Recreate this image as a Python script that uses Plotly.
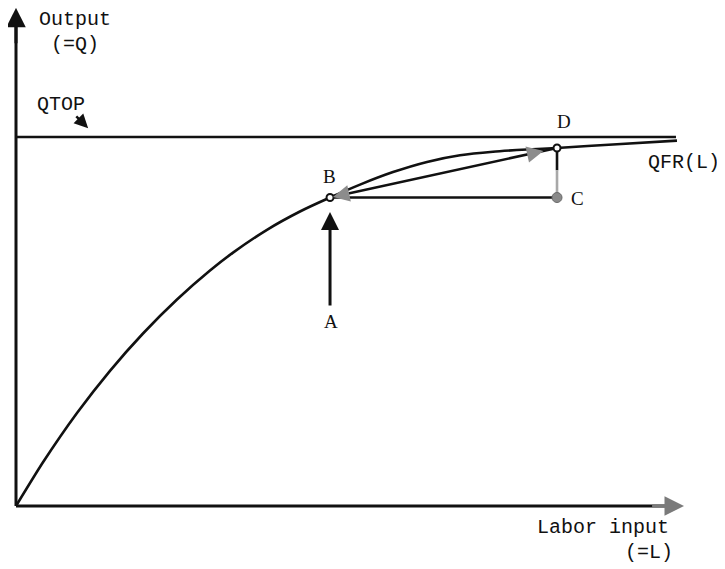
import plotly.graph_objects as go

# QFR(L) production curve (L, Q in chart units)
L_curve = [0, 0.404, 0.913, 1.407, 1.901, 2.410, 2.904, 3.249, 3.757, 4.251, 4.701,
           5.150, 5.644, 6.153, 6.647, 7.141, 7.650, 8.099, 8.997, 9.895]
Q_curve = [0, 1.184, 2.520, 3.664, 4.675, 5.596, 6.382, 6.867, 7.485, 7.981, 8.360,
           8.710, 9.049, 9.325, 9.504, 9.602, 9.661, 9.702, 9.805, 9.902]

QTOP = 10.0
QTOP_end = 9.88
L_axis_max = 10.0
Q_axis_max = 13.5

# named points
B = (4.701, 8.36)
C = (8.099, 8.36)
D = (8.099, 9.702)
A_tail = 5.39
A_tip = 7.97

BLACK = "#111111"
GRAY = "#8c8c8c"
MONO = "Liberation Mono, Courier New, monospace"
SERIF = "Liberation Serif, Times New Roman, serif"

fig = go.Figure()

def line(xs, ys, color=BLACK, width=2.6):
    fig.add_trace(go.Scatter(x=xs, y=ys, mode="lines",
                             line=dict(color=color, width=width),
                             hoverinfo="skip", showlegend=False))

# axes lines
line([0, L_axis_max - 0.15], [0, 0], width=3)
line([0, 0], [0, Q_axis_max - 0.3], width=3)

# QTOP
line([0, QTOP_end], [QTOP, QTOP], width=2.6)

# QFR curve
fig.add_trace(go.Scatter(x=L_curve, y=Q_curve, mode="lines",
                         line=dict(color=BLACK, width=2.6, shape="spline", smoothing=0.6),
                         hoverinfo="skip", showlegend=False))

# chord B -> D
line([B[0], D[0]], [B[1], D[1]], width=2.6)
# B -> C horizontal
line([B[0], C[0]], [B[1], C[1]], width=2.6)
# D -> C vertical (black upper, gray lower)
mid_q = C[1] + 0.55 * (D[1] - C[1])
line([D[0], D[0]], [D[1], mid_q], width=2.6)
line([C[0], C[0]], [mid_q, C[1]], color="#a8a8a8", width=2.6)

# point markers
fig.add_trace(go.Scatter(x=[B[0], D[0]], y=[B[1], D[1]], mode="markers",
                         marker=dict(size=7, color="white", line=dict(color=BLACK, width=2)),
                         hoverinfo="skip", showlegend=False))
fig.add_trace(go.Scatter(x=[C[0]], y=[C[1]], mode="markers",
                         marker=dict(size=10, color="#8a8a8a", line=dict(color="#6a6a6a", width=1)),
                         hoverinfo="skip", showlegend=False))

ann = []
def arrow(x, y, ax, ay, color=BLACK, width=3, head=2, size=1.2, standoff=0):
    ann.append(dict(x=x, y=y, ax=ax, ay=ay, xref="x", yref="y", axref="x", ayref="y",
                    text="", showarrow=True, arrowhead=head, arrowsize=size,
                    arrowwidth=width, arrowcolor=color, standoff=standoff))

# axis arrowheads
arrow(0, Q_axis_max, 0, Q_axis_max - 1.0, width=3, size=1.3)
arrow(L_axis_max, 0, L_axis_max - 0.5, 0, color="#7a7a7a", width=3, size=1.3)

# A arrow
arrow(B[0], A_tip, B[0], A_tail, width=3, size=1.2)

# QTOP pointer
arrow(1.08, 10.24, 0.88, 10.60, width=2.5, size=1.1)

# gray arrowheads on chord
f = 0.09
arrow(B[0], B[1], B[0] + f * (D[0] - B[0]), B[1] + f * (D[1] - B[1]),
      color=GRAY, width=3, size=1.1, standoff=3)
arrow(D[0] - 0.06 * (D[0] - B[0]), D[1] - 0.06 * (D[1] - B[1]),
      D[0] - 0.13 * (D[0] - B[0]), D[1] - 0.13 * (D[1] - B[1]),
      color=GRAY, width=3, size=1.1)

def label(txt, x, y, font=MONO, size=20):
    ann.append(dict(x=x, y=y, xref="x", yref="y", text=txt, showarrow=False,
                    font=dict(family=font, size=size, color=BLACK),
                    xanchor="center", yanchor="middle"))

label("Output", 0.88, 13.18)
label("(=Q)", 0.88, 12.52)
label("QTOP", 0.67, 10.89)
label("QFR(L)", 10.0, 9.32)
label("Labor input", 8.79, -0.57)
label("(=L)", 9.48, -1.27)
label("B", 4.69, 8.92, font=SERIF, size=19)
label("D", 8.20, 10.41, font=SERIF, size=19)
label("C", 8.41, 8.32, font=SERIF, size=19)
label("A", 4.72, 4.99, font=SERIF, size=19)

# page body has an 8px margin: size the figure so it fills the 725x569 window
fig.update_layout(
    width=717, height=561,
    margin=dict(l=0, r=0, t=0, b=0),
    paper_bgcolor="white", plot_bgcolor="white",
    xaxis=dict(range=[-0.1198, 10.6138], visible=False, fixedrange=True),
    yaxis=dict(range=[-1.7073, 13.4959], visible=False, fixedrange=True),
    annotations=ann,
    showlegend=False,
)

fig.write_html("out.html")
